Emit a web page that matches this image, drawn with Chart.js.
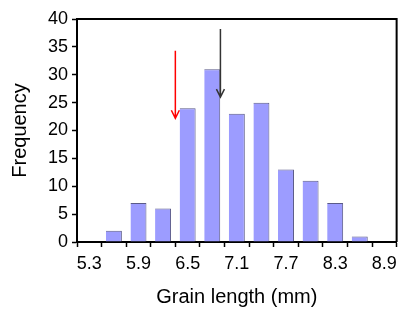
<!DOCTYPE html>
<html>
<head>
<meta charset="utf-8">
<script src="https://cdn.jsdelivr.net/npm/chart.js@4"></script>
<style>
  html, body { margin: 0; padding: 0; background: #fff; }
  #wrap { width: 403px; height: 312px; }
</style>
</head>
<body>
<div id="wrap"><canvas id="grainChart" width="403" height="312"></canvas></div>
<script>
// bin centres (mm) and counts
const binCenters = [5.3, 5.6, 5.9, 6.2, 6.5, 6.8, 7.1, 7.4, 7.7, 8.0, 8.3, 8.6, 8.9];
const counts = [0, 2, 7, 6, 24, 31, 23, 25, 13, 11, 7, 1, 0];
const binLabels = binCenters.map((v) => v.toFixed(1));

// arrows: x position (mm), start and tip (frequency)
const arrowX = [6.35, 6.9];
const arrowFrom = [34.3, 38.2];
const arrowTo = [22.2, 26];
const arrowColors = ["#ff0000", "#333333"];

const FONT = "'Liberation Sans', Arial, sans-serif";

// map a length in mm onto the category index used by the x scale
function mmToIndex(mm) {
  return (mm - binCenters[0]) / (binCenters[1] - binCenters[0]);
}

const framePlugin = {
  id: "frame",
  afterDraw(chart) {
    const { ctx, chartArea: a, scales } = chart;
    ctx.save();
    // top and right box lines
    ctx.strokeStyle = "#000";
    ctx.lineWidth = 2;
    ctx.beginPath();
    ctx.moveTo(a.left, a.top);
    ctx.lineTo(a.right, a.top);
    ctx.lineTo(a.right, a.bottom);
    ctx.stroke();

    // arrows
    arrowX.forEach((mm, i) => {
      const x = scales.x.getPixelForValue(mmToIndex(mm));
      const y0 = scales.y.getPixelForValue(arrowFrom[i]);
      const y1 = scales.y.getPixelForValue(arrowTo[i]);
      ctx.strokeStyle = arrowColors[i];
      ctx.lineWidth = 1.5;
      ctx.beginPath();
      ctx.moveTo(x, y0);
      ctx.lineTo(x, y1);
      ctx.moveTo(x - 4, y1 - 8);
      ctx.lineTo(x, y1);
      ctx.lineTo(x + 4, y1 - 8);
      ctx.stroke();
    });
    ctx.restore();
  }
};

new Chart(document.getElementById("grainChart"), {
  type: "bar",
  data: {
    labels: binLabels,
    datasets: [{
      data: counts,
      backgroundColor: "#9c9cff",
      borderColor: "#5a5a88",
      borderWidth: { top: 1, right: 1, left: 0, bottom: 0 },
      borderSkipped: false,
      barPercentage: 0.65,
      categoryPercentage: 1
    }]
  },
  options: {
    responsive: false,
    animation: false,
    layout: { padding: { top: 19, right: 4, left: 0, bottom: 0 } },
    plugins: { legend: { display: false }, tooltip: { enabled: false } },
    scales: {
      x: {
        type: "category",
        offset: true,
        grid: { offset: true, drawOnChartArea: false, tickLength: 5, tickColor: "#000", tickWidth: 1.5 },
        border: { color: "#000", width: 2 },
        ticks: {
          autoSkip: false,
          maxRotation: 0,
          padding: 6,
          color: "#000",
          font: { family: FONT, size: 18 },
          callback: (v, i) => (i % 2 === 0 ? binLabels[i] : "")
        },
        title: {
          display: true,
          text: "Grain length (mm)",
          color: "#000",
          font: { family: FONT, size: 20 },
          padding: { top: 0, bottom: 3 }
        },
        afterFit: (s) => { s.height = 70; }
      },
      y: {
        min: 0,
        max: 40,
        grid: { drawOnChartArea: false, tickLength: 5, tickColor: "#000", tickWidth: 1.5 },
        border: { color: "#000", width: 2 },
        ticks: {
          stepSize: 5,
          padding: 4,
          color: "#000",
          font: { family: FONT, size: 18 }
        },
        title: {
          display: true,
          text: "Frequency",
          color: "#000",
          font: { family: FONT, size: 20 },
          padding: { top: 8, bottom: 0 }
        },
        afterFit: (s) => { s.width = 77; }
      }
    }
  },
  plugins: [framePlugin]
});
</script>
</body>
</html>
